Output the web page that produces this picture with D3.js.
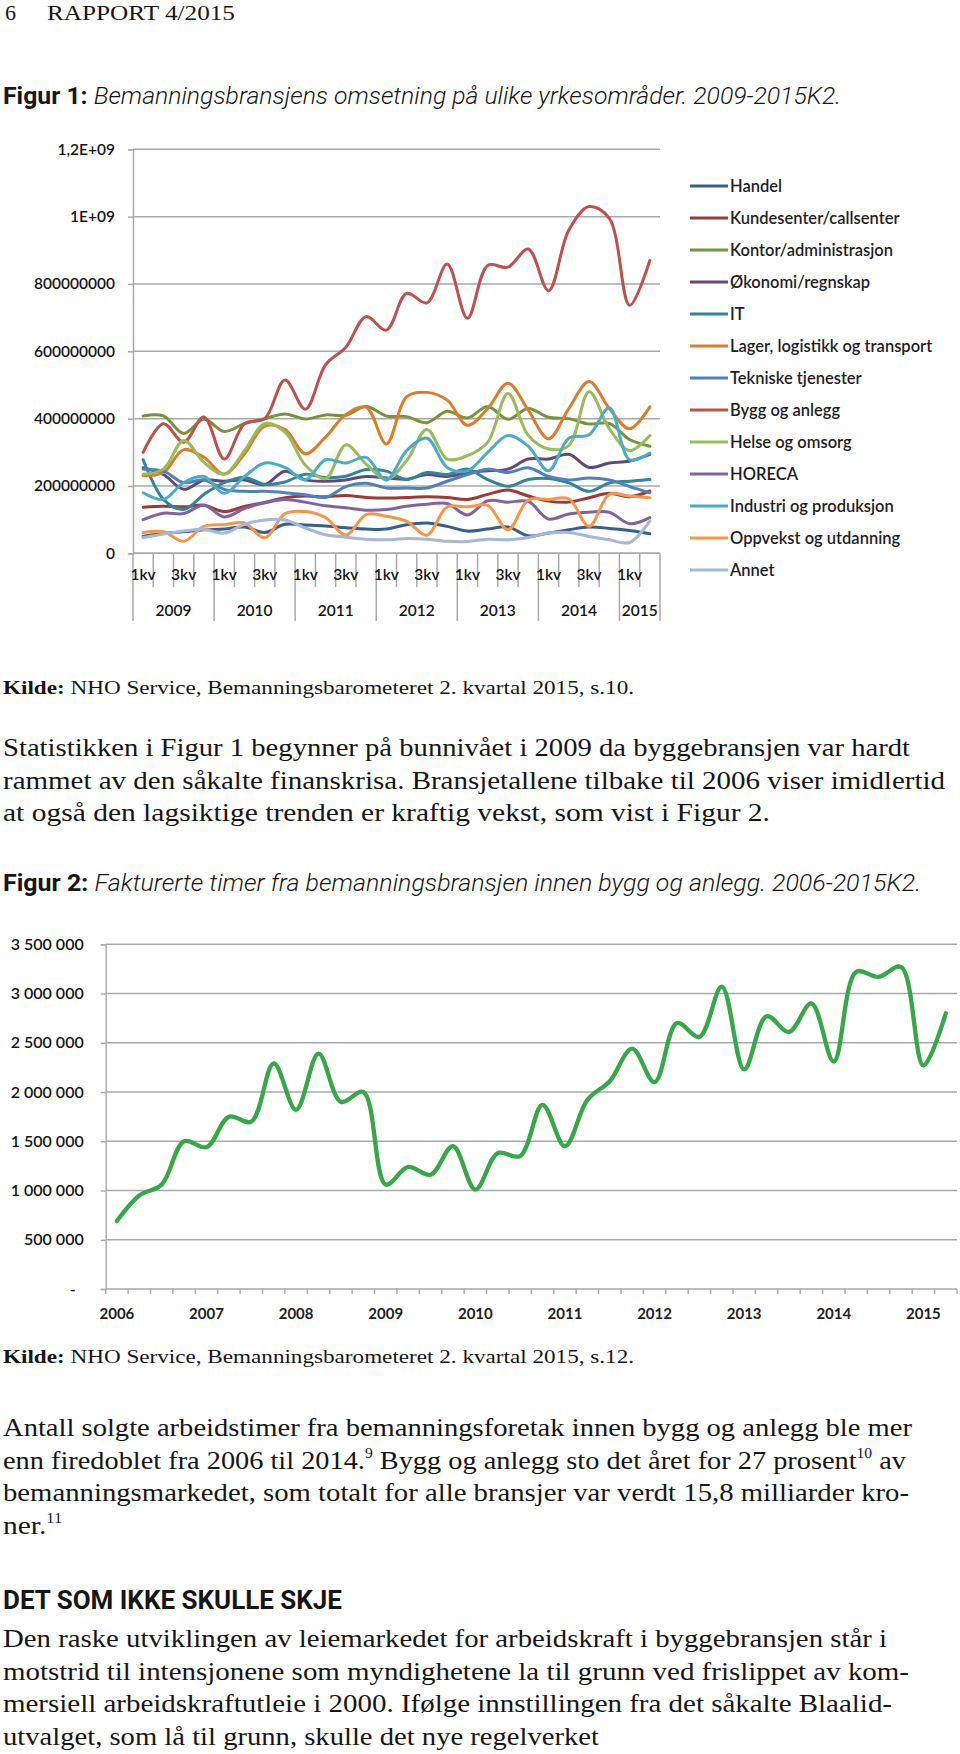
<!DOCTYPE html>
<html><head><meta charset="utf-8">
<script src="https://cdn.jsdelivr.net/npm/d3@7"></script>
<style>body{margin:0;background:#fff} svg{display:block}</style>
</head><body>
<svg id="page" width="960" height="1754"></svg>
<script>
// ---------- Figure 1 data (values in millions NOK) ----------
const years1 = ["2009","2010","2011","2012","2013","2014","2015"];
const categories1 = [
 "2009K1","2009K2","2009K3","2009K4","2010K1","2010K2","2010K3","2010K4",
 "2011K1","2011K2","2011K3","2011K4","2012K1","2012K2","2012K3","2012K4",
 "2013K1","2013K2","2013K3","2013K4","2014K1","2014K2","2014K3","2014K4",
 "2015K1","2015K2"];
const quarterLabels1 = ["1kv","2kv","3kv","4kv"];
const yTicks1 = [0,200,400,600,800,1000,1200];
const yTickLabels1 = ["0","200000000","400000000","600000000","800000000","1E+09","1,2E+09"];
const seriesNames1 = ["Handel","Kundesenter/callsenter","Kontor/administrasjon","Økonomi/regnskap","IT",
 "Lager, logistikk og transport","Tekniske tjenester","Bygg og anlegg","Helse og omsorg","HORECA",
 "Industri og produksjon","Oppvekst og utdanning","Annet"];
const handel      = [51,59,64,70,72,78,62,86,84,81,76,72,72,85,90,80,66,72,78,52,60,70,78,74,68,58];
const kundesenter = [137,140,138,143,124,139,151,165,170,168,172,166,164,166,168,166,160,175,188,170,155,152,165,178,168,185];
const kontor      = [408,408,356,398,362,385,400,414,399,411,410,436,408,406,388,422,402,436,398,430,404,400,384,386,338,318];
const okonomi     = [254,234,190,218,214,218,204,244,218,214,218,228,224,220,234,228,240,245,250,280,280,294,255,268,274,294];
const it          = [278,160,130,175,210,225,205,212,235,225,229,249,244,219,240,234,250,219,199,219,222,209,184,209,214,219];
const lager       = [230,240,308,285,235,295,378,368,296,345,412,434,325,465,478,455,380,430,505,425,340,430,510,430,370,435];
const tekniske    = [250,244,210,218,190,184,184,180,174,166,198,208,194,194,194,214,234,250,240,254,228,218,224,218,198,180];
const bygg        = [300,385,330,405,280,385,400,515,428,560,612,703,663,772,744,859,698,855,850,904,780,960,1030,995,737,870];
const helse       = [235,250,335,270,235,305,385,360,262,222,322,265,220,275,368,280,290,330,475,350,310,320,480,370,305,350];
const horeca      = [100,119,118,143,108,133,150,160,152,141,135,128,130,140,146,148,114,156,152,154,102,117,122,122,88,106];
const industri    = [180,160,210,228,178,228,268,255,218,278,268,285,218,305,342,255,245,300,350,318,245,342,352,432,278,298];
const oppvekst    = [62,64,36,80,85,90,46,118,124,106,54,115,110,95,54,138,138,142,70,158,160,162,80,175,170,165];
const annet       = [47,57,66,71,60,86,99,99,75,55,48,42,40,44,42,36,35,42,40,47,60,62,50,40,32,96];
const seriesValues1 = [handel,kundesenter,kontor,okonomi,it,lager,tekniske,bygg,helse,horeca,industri,oppvekst,annet];
const seriesColors1 = ["#376092","#9c3a37","#77933c","#604a7b","#31859c","#dc7d2c","#4f81bd","#c0504d","#9bbb59","#8064a2","#4bacc6","#f79646","#a5b8d8"];

// ---------- Figure 2 data (invoiced hours) ----------
const years2 = ["2006","2007","2008","2009","2010","2011","2012","2013","2014","2015"];
const categories2 = [];
years2.forEach(y => ["K1","K2","K3","K4"].forEach(q => { if (!(y==="2015" && (q==="K3"||q==="K4"))) categories2.push(y+q); }));
const hours2 = [690000,950000,1060000,1500000,1440000,1750000,1700000,2290000,1820000,2390000,
 1900000,2000000,1060000,1240000,1160000,1450000,1010000,1380000,1350000,1870000,
 1450000,1920000,2110000,2440000,2100000,2700000,2560000,3070000,2230000,2770000,
 2610000,2900000,2310000,3220000,3170000,3270000,2270000,2800000];
const yTicks2 = [0,500000,1000000,1500000,2000000,2500000,3000000,3500000];
const yTickLabels2 = ["-","500 000","1 000 000","1 500 000","2 000 000","2 500 000","3 000 000","3 500 000"];

// ---------- page ----------
const svg = d3.select("#page");
const SERIF = "'Liberation Serif', 'DejaVu Serif', serif";
const SANS = "Roboto, 'Open Sans', sans-serif";
const CHART = "Lato, 'Open Sans', sans-serif";
const INK = "#161616";

function textLine(x, y, parts, o) {
  const t = svg.append("text").attr("x", x).attr("y", y)
    .attr("font-family", o.family).attr("font-size", o.size).attr("fill", o.fill || INK);
  if (o.length) t.attr("textLength", o.length).attr("lengthAdjust", "spacingAndGlyphs");
  let shifted = 0;
  parts.forEach(p => {
    const s = t.append("tspan").text(p.t);
    if (p.weight) s.attr("font-weight", p.weight);
    if (p.style) s.attr("font-style", p.style);
    if (p.sup) { s.attr("font-size", o.size * 0.55).attr("dy", -o.size * 0.42 - shifted); shifted = -o.size * 0.42; }
    else if (shifted) { s.attr("dy", -shifted); shifted = 0; }
  });
  return t;
}

// header
textLine(5, 20, [{t:"6"}], {family: SERIF, size: 22});
textLine(47, 20, [{t:"RAPPORT 4/2015"}], {family: SERIF, size: 21, length: 188});

// Figure 1 title
textLine(3, 104, [{t:"Figur 1: ", weight: 700}, {t:"Bemanningsbransjens omsetning på ulike yrkesområder. 2009-2015K2.", style: "italic", weight: 300}],
  {family: SANS, size: 23, length: 838});

// ---------- Figure 1 chart ----------
const X1L = 133, X1R = 660, Y1T = 149.3, Y1B = 553.3;
const x1 = d3.scaleBand().domain(categories1).range([X1L, X1R]).padding(0);
const y1 = d3.scaleLinear().domain([0, 1200]).range([Y1B, Y1T]);
const g1 = svg.append("g");
const GRID = "#a9a9a9";

g1.append("g").selectAll("line").data(yTicks1).join("line")
  .attr("x1", X1L).attr("x2", X1R).attr("y1", d => y1(d)).attr("y2", d => y1(d))
  .attr("stroke", GRID).attr("stroke-width", 1.5);

const ax1 = g1.append("g").attr("transform", `translate(${X1L},0)`)
  .call(d3.axisLeft(y1).tickValues(yTicks1).tickFormat((d, i) => yTickLabels1[i]).tickSize(5).tickPadding(13));
ax1.select(".domain").attr("stroke", GRID).attr("stroke-width", 1.5);
ax1.selectAll(".tick line").attr("stroke", GRID).attr("stroke-width", 1.5);
ax1.selectAll(".tick text").attr("font-family", CHART).attr("font-size", 15.5).attr("fill", INK).attr("font-weight", 600);

// category axis
const bw1 = x1.bandwidth();
const bounds1 = categories1.map(c => x1(c)).concat([X1R]);
g1.append("g").selectAll("line").data(bounds1).join("line")
  .attr("x1", d => d).attr("x2", d => d).attr("y1", Y1B)
  .attr("y2", (d, i) => (i % 4 === 0 || i === bounds1.length - 1) ? 621 : 587)
  .attr("stroke", GRID).attr("stroke-width", 1.5);
g1.append("line").attr("x1", X1L).attr("x2", X1R).attr("y1", Y1B).attr("y2", Y1B).attr("stroke", GRID).attr("stroke-width", 1.5);
const kvCats = categories1.filter((c, i) => i % 2 === 0);
const axb = g1.append("g").attr("transform", `translate(0,${Y1B})`)
  .call(d3.axisBottom(x1).tickValues(kvCats).tickFormat(c => quarterLabels1[+c.slice(5) - 1]).tickSize(0).tickPadding(16));
axb.select(".domain").remove();
axb.selectAll(".tick text").attr("font-family", CHART).attr("font-size", 15.5).attr("fill", INK).attr("font-weight", 600);
g1.append("g").selectAll("text").data(years1).join("text")
  .attr("x", y => {
    const cs = categories1.filter(c => c.startsWith(y));
    return (x1(cs[0]) + x1(cs[cs.length - 1]) + bw1) / 2;
  })
  .attr("y", 616).attr("text-anchor", "middle")
  .attr("font-family", CHART).attr("font-size", 15.5).attr("fill", INK).attr("font-weight", 600)
  .text(d => d);

// series
const line1 = d3.line().x((d, i) => x1(categories1[i]) + bw1 / 2).y(d => y1(d)).curve(d3.curveCatmullRom.alpha(0.5));
g1.append("g").selectAll("path").data(seriesValues1).join("path")
  .attr("d", d => line1(d)).attr("fill", "none")
  .attr("stroke", (d, i) => seriesColors1[i]).attr("stroke-width", 3)
  .attr("stroke-linejoin", "round").attr("stroke-linecap", "round");

// legend
const leg = g1.append("g").selectAll("g").data(seriesNames1).join("g")
  .attr("transform", (d, i) => `translate(690,${186 + i * 32})`);
leg.append("line").attr("x1", 0).attr("x2", 38).attr("y1", 0).attr("y2", 0)
  .attr("stroke", (d, i) => seriesColors1[i]).attr("stroke-width", 3);
leg.append("text").attr("x", 40).attr("y", 5.8).attr("font-family", CHART).attr("font-size", 16.5)
  .attr("fill", "#1e1e1e").attr("font-weight", 600).text(d => d);

// source 1
textLine(3, 694, [{t:"Kilde: ", weight: 700}, {t:"NHO Service, Bemanningsbarometeret 2. kvartal 2015, s.10."}],
  {family: SERIF, size: 19, length: 631});

// paragraph 1
const para1 = [
  {t:"Statistikken i Figur 1 begynner på bunnivået i 2009 da byggebransjen var hardt", w: 907},
  {t:"rammet av den såkalte finanskrisa. Bransjetallene tilbake til 2006 viser imidlertid", w: 942},
  {t:"at også den lagsiktige trenden er kraftig vekst, som vist i Figur 2.", w: 767}];
para1.forEach((l, i) => textLine(3, 756 + i * 32.5, [{t: l.t}], {family: SERIF, size: 25, length: l.w}));

// Figure 2 title
textLine(3, 891, [{t:"Figur 2: ", weight: 700}, {t:"Fakturerte timer fra bemanningsbransjen innen bygg og anlegg. 2006-2015K2.", style: "italic", weight: 300}],
  {family: SANS, size: 23, length: 918});

// ---------- Figure 2 chart ----------
const X2L = 105.7, X2R = 957, Y2T = 944.3, Y2B = 1289;
const x2 = d3.scaleBand().domain(categories2).range([X2L, X2R]).padding(0);
const y2 = d3.scaleLinear().domain([0, 3500000]).range([Y2B, Y2T]);
const g2 = svg.append("g");
g2.append("g").selectAll("line").data(yTicks2).join("line")
  .attr("x1", X2L).attr("x2", X2R).attr("y1", d => y2(d)).attr("y2", d => y2(d))
  .attr("stroke", GRID).attr("stroke-width", 1.4);
const ax2 = g2.append("g").attr("transform", `translate(${X2L},0)`)
  .call(d3.axisLeft(y2).tickValues(yTicks2).tickFormat((d, i) => yTickLabels2[i]).tickSize(5).tickPadding(17));
ax2.select(".domain").attr("stroke", GRID).attr("stroke-width", 1.4);
ax2.selectAll(".tick line").attr("stroke", GRID).attr("stroke-width", 1.4);
ax2.selectAll(".tick text").attr("font-family", CHART).attr("font-size", 16).attr("fill", INK).attr("font-weight", 600)
  .attr("dx", (d) => d === 0 ? -8 : 0);
const bw2 = x2.bandwidth();
const bounds2 = categories2.map(c => x2(c)).concat([X2R]);
g2.append("g").selectAll("line").data(bounds2).join("line")
  .attr("x1", d => d).attr("x2", d => d).attr("y1", Y2B).attr("y2", Y2B + 5)
  .attr("stroke", GRID).attr("stroke-width", 1.4);
const yearCats2 = categories2.filter(c => c.endsWith("K1"));
const axb2 = g2.append("g").attr("transform", `translate(0,${Y2B})`)
  .call(d3.axisBottom(x2).tickValues(yearCats2).tickFormat(c => c.slice(0, 4)).tickSize(0).tickPadding(19));
axb2.select(".domain").remove();
axb2.selectAll(".tick text").attr("font-family", CHART).attr("font-size", 15).attr("fill", "#222").attr("font-weight", 700);
const line2 = d3.line().x((d, i) => x2(categories2[i]) + bw2 / 2).y(d => y2(d)).curve(d3.curveCatmullRom.alpha(0.5));
g2.append("path").attr("d", line2(hours2)).attr("fill", "none").attr("stroke", "#36a84a")
  .attr("stroke-width", 4.3).attr("stroke-linejoin", "round").attr("stroke-linecap", "round");

// source 2
textLine(3, 1363, [{t:"Kilde: ", weight: 700}, {t:"NHO Service, Bemanningsbarometeret 2. kvartal 2015, s.12."}],
  {family: SERIF, size: 19, length: 631});

// paragraph 2
textLine(3, 1436, [{t:"Antall solgte arbeidstimer fra bemanningsforetak innen bygg og anlegg ble mer"}], {family: SERIF, size: 25, length: 909});
textLine(3, 1468.5, [{t:"enn firedoblet fra 2006 til 2014."}, {t:"9", sup: true}, {t:" Bygg og anlegg sto det året for 27 prosent"}, {t:"10", sup: true}, {t:" av"}],
  {family: SERIF, size: 25, length: 903});
textLine(3, 1501, [{t:"bemanningsmarkedet, som totalt for alle bransjer var verdt 15,8 milliarder kro-"}], {family: SERIF, size: 25, length: 906});
textLine(3, 1533.5, [{t:"ner."}, {t:"11", sup: true}], {family: SERIF, size: 25, length: 59});

// heading
textLine(3, 1609, [{t:"DET SOM IKKE SKULLE SKJE", weight: 700}], {family: SANS, size: 25, length: 339});

// paragraph 3
const para3 = [
  {t:"Den raske utviklingen av leiemarkedet for arbeidskraft i byggebransjen står i", w: 884},
  {t:"motstrid til intensjonene som myndighetene la til grunn ved frislippet av kom-", w: 906},
  {t:"mersiell arbeidskraftutleie i 2000. Ifølge innstillingen fra det såkalte Blaalid-", w: 889},
  {t:"utvalget, som lå til grunn, skulle det nye regelverket", w: 596}];
para3.forEach((l, i) => textLine(3, 1647 + i * 32.5, [{t: l.t}], {family: SERIF, size: 25, length: l.w}));
</script>
</body></html>
